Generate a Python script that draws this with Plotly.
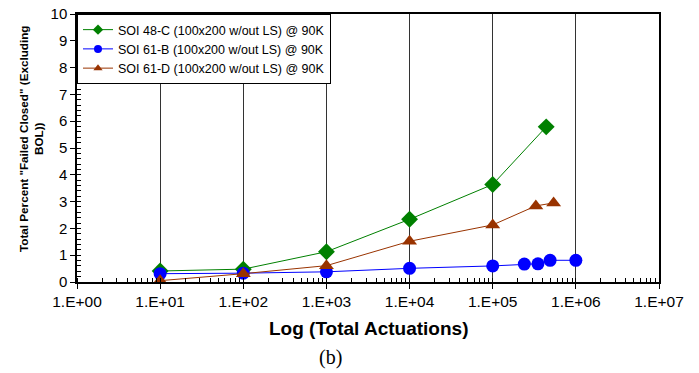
import plotly.graph_objects as go

# ---- data ----
green_name = "SOI 48-C (100x200 w/out LS) @ 90K"
green_x = [10, 100, 1000, 1e4, 1e5, 4.4e5]
green_y = [0.41, 0.48, 1.13, 2.34, 3.64, 5.79]

blue_name = "SOI 61-B (100x200 w/out LS) @ 90K"
blue_x = [10, 100, 1000, 1e4, 1e5, 2.4e5, 3.5e5, 4.9e5, 1e6]
blue_y = [0.31, 0.33, 0.38, 0.51, 0.60, 0.67, 0.68, 0.81, 0.81]

brown_name = "SOI 61-D (100x200 w/out LS) @ 90K"
brown_x = [10, 100, 1000, 1e4, 1e5, 3.3e5, 5.4e5]
brown_y = [0.05, 0.31, 0.61, 1.52, 2.13, 2.84, 2.95]

x_tickvals = [1, 10, 100, 1000, 1e4, 1e5, 1e6, 1e7]
x_ticktext = ["1.E+00", "1.E+01", "1.E+02", "1.E+03", "1.E+04", "1.E+05", "1.E+06", "1.E+07"]
y_tickvals = list(range(0, 11))

x_title = "Log (Total Actuations)"
y_title = "Total Percent \"Failed Closed\" (Excluding<br>BOL))"
caption = "(b)"

FONT = "Liberation Sans, Arial, sans-serif"

W, H = 699, 373
L, T = 77, 14
PW, PH = 659 - 77, 282 - 14

series = [
    (green_name, green_x, green_y, "#008000", "diamond"),
    (blue_name, blue_x, blue_y, "#0000FF", "circle"),
    (brown_name, brown_x, brown_y, "#993300", "triangle-up"),
]

fig = go.Figure()
for name, xs, ys, color, symbol in series:
    fig.add_trace(go.Scatter(x=xs, y=ys, name=name, mode="lines+markers", showlegend=False,
                             line=dict(color=color, width=1),
                             marker=dict(symbol=symbol, size=13, color=color)))
# legend entries with the small markers seen in the reference legend
for name, xs, ys, color, symbol in series:
    fig.add_trace(go.Scatter(x=[None], y=[None], name=name, mode="lines+markers",
                             line=dict(color=color, width=1),
                             marker=dict(symbol=symbol, size=8, color=color)))

fig.update_layout(
    width=W, height=H,
    margin=dict(l=L, r=W - L - PW, t=T, b=H - T - PH, autoexpand=False),
    paper_bgcolor="white", plot_bgcolor="white",
    font=dict(family=FONT, color="black"),
    showlegend=True,
    legend=dict(x=0.0, y=1.0, xanchor="left", yanchor="top",
                bordercolor="black", borderwidth=1, bgcolor="white",
                font=dict(size=12.5, family=FONT),
                itemwidth=30),
    xaxis=dict(type="log", range=[0, 7], automargin=False,
               tickvals=x_tickvals, ticktext=x_ticktext,
               tickfont=dict(size=15.5, family=FONT),
               ticks="outside", ticklen=5, tickcolor="black", tickwidth=1,
               showline=True, linecolor="black", linewidth=1.5, mirror=True,
               showgrid=True, gridcolor="#333333", gridwidth=1,
               zeroline=False, ticklabeloverflow="allow",
               minor=dict(ticks="inside", ticklen=4, tickcolor="black", dtick="D1", showgrid=False)),
    yaxis=dict(range=[0, 10], tickvals=y_tickvals, automargin=False,
               tickfont=dict(size=15, family=FONT),
               ticks="outside", ticklen=5, tickcolor="black", tickwidth=1,
               showline=True, linecolor="black", linewidth=1.5, mirror=True,
               showgrid=False, zeroline=False, ticklabeloverflow="allow",
               minor=dict(ticks="inside", ticklen=4, tickcolor="black", dtick=0.2, showgrid=False)),
    xaxis2=dict(type="log", range=[0, 7], overlaying="x", anchor="y", side="bottom",
                tickvals=x_tickvals, showticklabels=False, automargin=False,
                ticks="inside", ticklen=5, tickcolor="black",
                showgrid=False, zeroline=False, showline=False),
    yaxis2=dict(range=[0, 10], overlaying="y", anchor="x", side="left",
                tickvals=y_tickvals, showticklabels=False, automargin=False,
                ticks="inside", ticklen=5, tickcolor="black",
                showgrid=False, zeroline=False, showline=False),
)

fig.add_annotation(text="<b>" + y_title + "</b>",
                   xref="paper", yref="paper",
                   x=(31 - 77) / PW, y=(282 - 139) / PH,
                   xanchor="center", yanchor="middle", textangle=-90,
                   showarrow=False, font=dict(size=11.7, family=FONT))

fig.add_annotation(text="<b>" + x_title + "</b>", xref="paper", yref="paper",
                   x=(368 - 77) / PW, y=(282 - 328) / PH,
                   xanchor="center", yanchor="middle", showarrow=False,
                   font=dict(size=19, family=FONT))

fig.add_annotation(text=caption, xref="paper", yref="paper",
                   x=(330 - 77) / PW, y=(282 - 357) / PH,
                   xanchor="center", yanchor="middle", showarrow=False,
                   font=dict(size=20, family="Liberation Serif, Times New Roman, serif"))

fig.write_html("out.html",
               config={"displayModeBar": False},
               post_script="document.body.style.margin='0';document.body.style.overflow='hidden';")
